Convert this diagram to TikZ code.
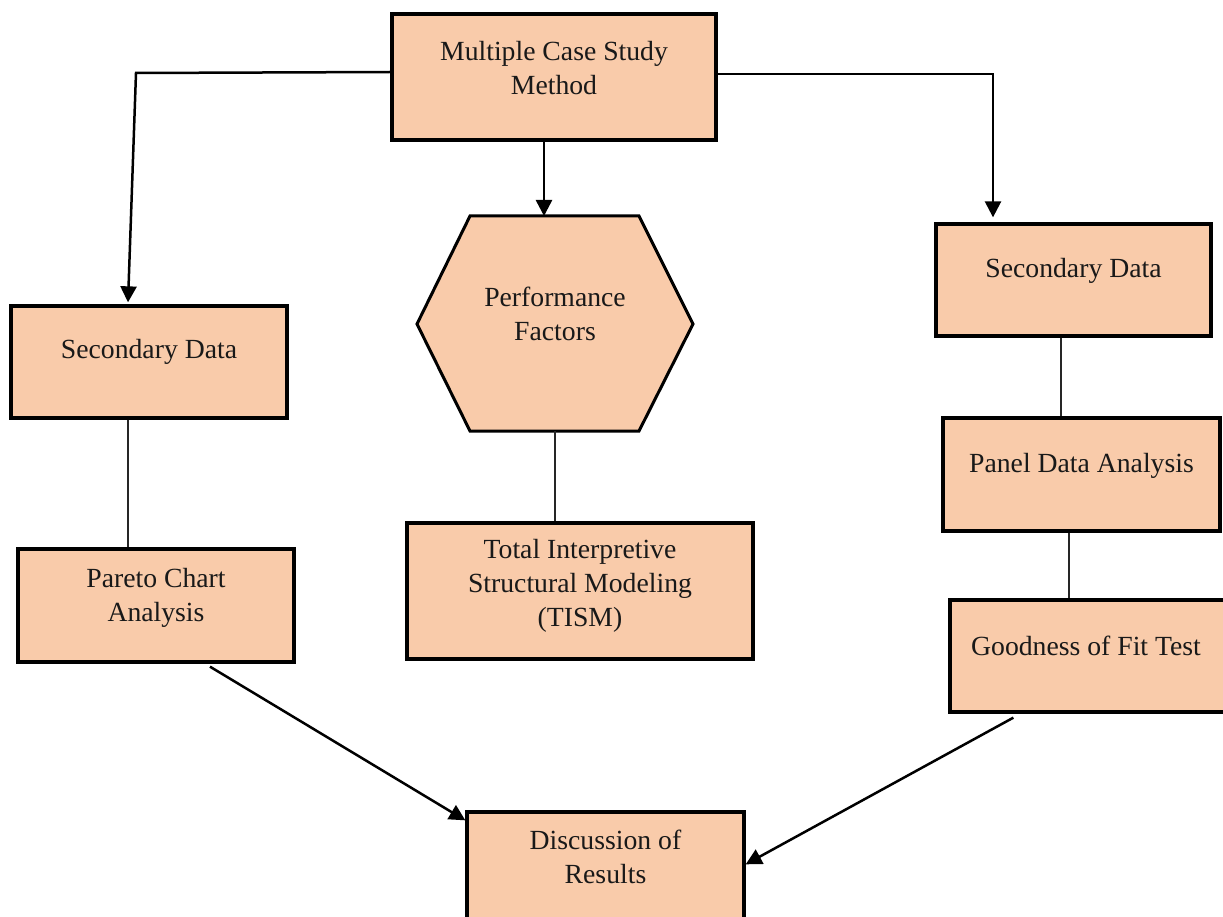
\documentclass[tikz,border=0pt]{standalone}
\usepackage{fontspec}
\setmainfont{Liberation Serif}
\usetikzlibrary{arrows.meta,calc}
\definecolor{peach}{HTML}{F9CBAA}
\begin{document}
\begin{tikzpicture}[x=1pt,y=-1pt,
  box/.style={draw=black,line width=3.3pt,fill=peach,rectangle,inner sep=0pt},
  txt/.style={align=center,inner sep=0pt,font=\fontsize{27.7}{34}\selectfont,text=black!90},
  arr/.style={line width=2.5pt,-{Triangle[length=16pt,width=16pt]}},
  ln/.style={line width=1.4pt,black!85}]
\useasboundingbox (0,0) rectangle (1223,917);
% boxes
\node[box,minimum width=324,minimum height=126] (mcs) at (554,77) {};
\node[txt] (mcsT) at (554,68) {Multiple Case Study\\Method};
\coordinate (hexTop) at (544,216);
\coordinate (hexBot) at (555,431);
\draw[line width=3pt,fill=peach,line join=miter] (470,216) -- (639,216) -- (693,324) -- (639,431) -- (470,431) -- (417,324) -- cycle;
\node[txt] (pfT) at (555,314) {Performance\\Factors};
\node[box,minimum width=276,minimum height=112] (sdl) at (149,362) {};
\node[txt] (sdlT) at (149,352) {Secondary Data};
\node[box,minimum width=276,minimum height=113] (par) at (156,605.5) {};
\node[txt] (parT) at (156,598) {Pareto Chart\\Analysis};
\node[box,minimum width=346,minimum height=136] (tism) at (580,591) {};
\node[txt] (tismT) at (580,586) {Total Interpretive\\Structural Modeling\\(TISM)};
\node[box,minimum width=275,minimum height=112] (sdr) at (1073.5,280) {};
\node[txt] (sdrT) at (1073.5,271) {Secondary Data};
\node[box,minimum width=277,minimum height=113] (pan) at (1081.5,474.5) {};
\node[txt] (panT) at (1081.5,466) {Panel Data Analysis};
\node[box,minimum width=280,minimum height=112] (gf) at (1090,656) {};
\node[txt] (gfT) at (1086,646) {Goodness of Fit Test};
\node[box,minimum width=277,minimum height=116] (disc) at (605.5,870) {};
\node[txt] (discT) at (605.5,857) {Discussion of\\Results};
% connectors
\coordinate (lc) at (136,73);
\coordinate (rc) at (993,74);
\draw[arr] ($(mcs.west)+(0,-5)$) -- (lc) -- ($(sdl.north)+(-21,-2)$);
\draw[arr] ($(mcs.east)+(0,-3)$) -- (rc) -- ($(sdr.north)+(-80.5,-5)$);
\draw[arr] (mcs.south -| hexTop) -- (hexTop);
\draw[ln] ($(sdl.south)+(-21,0)$) -- ($(par.north)+(-28,0)$);
\draw[ln] (hexBot) -- (hexBot |- tism.north);
\draw[ln] ($(sdr.south)+(-12.5,0)$) -- ($(pan.north)+(-20.5,0)$);
\draw[ln] ($(pan.south)+(-12.5,0)$) -- ($(gf.north)+(-21,0)$);
\draw[arr] ($(par.south)+(54,3)$) -- ($(disc.north west)+(0,10)$);
\draw[arr] ($(gf.south west)+(65,4)$) -- ($(disc.north east)+(0,54)$);
\end{tikzpicture}
\end{document}
